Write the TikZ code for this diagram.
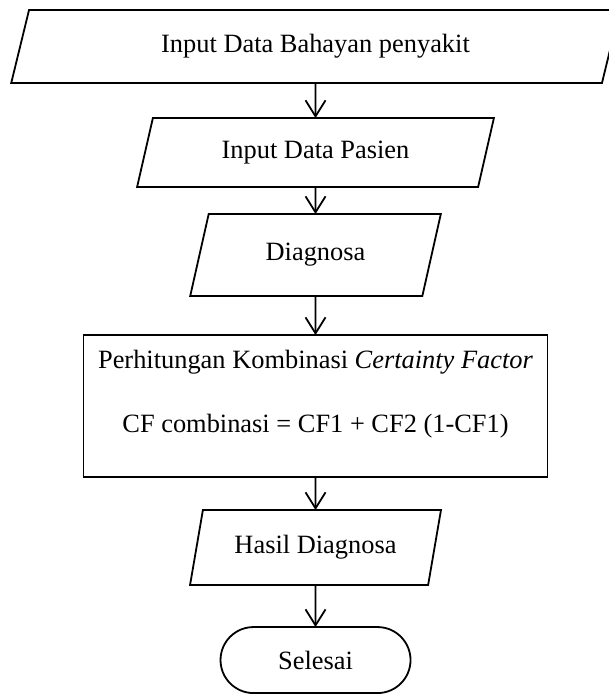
\documentclass[tikz,border=0pt]{standalone}
\usepackage{fontspec}
\setmainfont{Liberation Serif}
\usetikzlibrary{arrows.meta,positioning,shapes.geometric}

\begin{document}
\begin{tikzpicture}[->,>={Straight Barb[length=8pt,width=10pt]}, node distance=17pt, auto,
semithick, line width=0.9pt,
	every node/.style={font=\fontsize{13.2}{16}\selectfont, outer sep=0pt},
    inout/.style={draw, trapezium, trapezium left angle=75, trapezium right angle=105,
      trapezium stretches=true, text centered},
    process/.style={draw, rectangle, align=center},
    stopbox/.style={draw, rectangle, rounded corners=16.5pt, minimum width=95pt, minimum height=33pt}
    ]
\useasboundingbox (0,0) rectangle (304.5pt,-349pt);
% input
\node[inout, minimum width=304.5pt, minimum height=36.5pt] (bahaya) at (157.75pt,-23.25pt) {Input Data Bahayan penyakit};
\node[inout, minimum width=178.5pt, minimum height=34.5pt, below=17.5pt of bahaya] (pasien) {Input Data Pasien};
\node[inout, minimum width=126pt, minimum height=41pt, below=13.5pt of pasien] (diag) {Diagnosa};
% proses
\node[process, minimum width=232pt, minimum height=71pt, below=19.5pt of diag] (cf)
  {Perhitungan Kombinasi \textit{Certainty Factor}\\[16pt] CF combinasi = CF1 + CF2 (1-CF1)\\[-1pt]\mbox{}};
% output
\node[inout, minimum width=126pt, minimum height=37.5pt, below=16.5pt of cf] (hasil) {Hasil Diagnosa};
\node[stopbox, below=21pt of hasil] (selesai) {Selesai};
\path
(bahaya) edge (pasien)
(pasien) edge (diag)
(diag) edge (cf)
(cf) edge (hasil)
(hasil) edge (selesai)
;
\end{tikzpicture}
\end{document}
